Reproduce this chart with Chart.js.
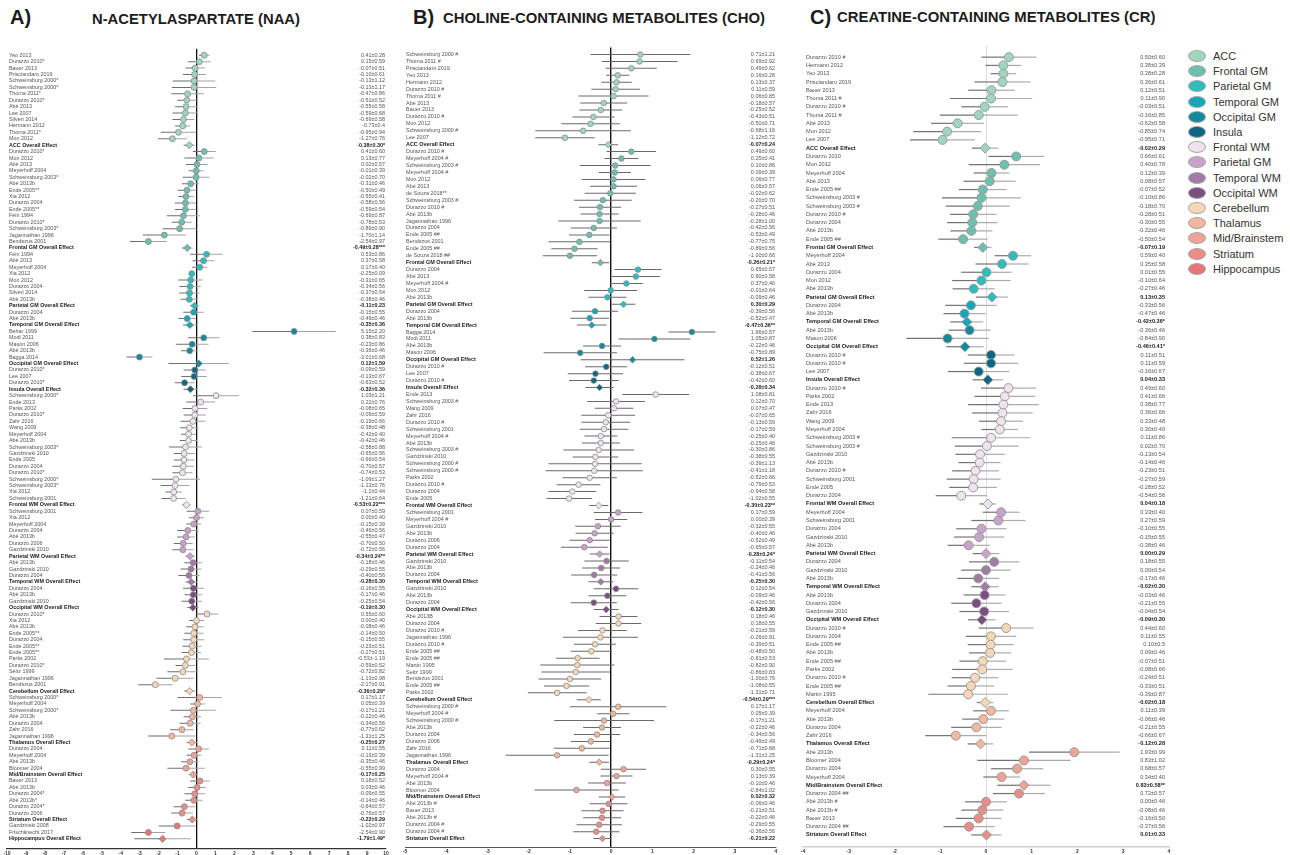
<!DOCTYPE html>
<html>
<head>
<meta charset="utf-8">
<script src="https://cdn.jsdelivr.net/npm/chart.js@4.4.1/dist/chart.umd.min.js"></script>
<style>
html,body{margin:0;padding:0;background:#fff;width:1290px;height:855px;overflow:hidden;font-family:"Liberation Sans",Arial,sans-serif;}
canvas{position:absolute;top:0;}
.tag{position:absolute;font-weight:bold;color:#1c1c1c;white-space:nowrap;line-height:1;}
.lrow{position:absolute;left:1188px;height:12px;display:flex;align-items:center;white-space:nowrap;}
.dot{display:inline-block;width:18px;height:12px;border-radius:50%;border:1px solid #a8a8a8;box-sizing:border-box;}
.ltxt{margin-left:7px;font-size:11px;color:#333;line-height:12px;}
</style>
</head>
<body>
<div class="tag" style="left:10px;top:7px;font-size:20px">A)</div>
<div class="tag" style="left:92px;top:12px;font-size:14.8px">N-ACETYLASPARTATE (NAA)</div>
<div class="tag" style="left:413px;top:7px;font-size:20px">B)</div>
<div class="tag" style="left:443px;top:11px;font-size:14.9px">CHOLINE-CONTAINING METABOLITES (CHO)</div>
<div class="tag" style="left:810px;top:7px;font-size:20px">C)</div>
<div class="tag" style="left:837px;top:10px;font-size:14.9px">CREATINE-CONTAINING METABOLITES (CR)</div>
<canvas id="cA" width="395" height="855" style="left:0px"></canvas>
<canvas id="cB" width="395" height="855" style="left:395px"></canvas>
<canvas id="cC" width="395" height="855" style="left:785px"></canvas>
<div id="legend"></div>
<script>
// ---------------- shared categories ----------------
const regionNames = ['ACC','Frontal GM','Parietal GM','Temporal GM','Occipital GM','Insula','Frontal WM','Parietal WM','Temporal WM','Occipital WM','Cerebellum','Thalamus','Mid/Brainstem','Striatum','Hippocampus'];
const legendLabels = ['ACC','Frontal GM','Parietal GM','Temporal GM','Occipital GM','Insula','Frontal WM','Parietal GM','Temporal WM','Occipital WM','Cerebellum','Thalamus','Mid/Brainstem','Striatum','Hippocampus'];
const regionColors = ['#9fd6c1','#6dc0af','#2ebdbf','#12a7ba','#138a9c','#0c6684','#efe3ee','#c8a2c8','#a27aa6','#7b4e80','#f6d8b7','#f2b79c','#eda395','#e88d87','#e57577'];

// ---------------- A) NAA ----------------
const naaGroups = [15,16,9,3,6,4,18,8,4,4,13,8,5,7,3];
const naaNames = [
 'Yeo 2013','Durazzo 2010*','Bauer 2013','Prisciandaro 2019','Schweinsburg 2000*','Schweinsburg 2000*','Thoma 2011*','Durazzo 2010*','Abé 2013','Lee 2007','Silveri 2014','Hermann 2012','Thoma 2011*','Mon 2012','ACC Overall Effect',
 'Durazzo 2010*','Mon 2012','Abé 2013','Meyerhoff 2004','Schweinsburg 2003*','Abé 2013b','Ende 2005**','Xia 2012','Durazzo 2004','Ende 2005**','Fein 1994','Durazzo 2010*','Schweinsburg 2003*','Jagannathan 1996','Bendszus 2001','Frontal GM Overall Effect',
 'Fein 1994','Abé 2013','Meyerhoff 2004','Xia 2012','Mon 2012','Durazzo 2004','Silveri 2014','Abé 2013b','Parietal GM Overall Effect',
 'Durazzo 2004','Abé 2013b','Temporal GM Overall Effect',
 'Behar 1999','Modi 2011','Mason 2006','Abé 2013b','Bagga 2014','Occipital GM Overall Effect',
 'Durazzo 2010*','Lee 2007','Durazzo 2010*','Insula Overall Effect',
 'Schweinsburg 2000*','Ende 2013','Parks 2002','Durazzo 2010*','Zahr 2016','Wang 2009','Meyerhoff 2004','Abé 2013b','Schweinsburg 2003*','Gazdzinski 2010','Ende 2005','Durazzo 2004','Durazzo 2010*','Schweinsburg 2000*','Schweinsburg 2003*','Xia 2012','Schweinsburg 2001','Frontal WM Overall Effect',
 'Schweinsburg 2001','Xia 2012','Meyerhoff 2004','Durazzo 2004','Abé 2013b','Durazzo 2006','Gazdzinski 2010','Parietal WM Overall Effect',
 'Abé 2013b','Gazdzinski 2010','Durazzo 2004','Temporal WM Overall Effect',
 'Durazzo 2004','Abé 2013b','Gazdzinski 2010','Occipital WM Overall Effect',
 'Durazzo 2010*','Xia 2012','Abé 2013b','Ende 2005**','Durazzo 2004','Ende 2005**','Ende 2005**','Parks 2002','Durazzo 2010*','Seitz 1999','Jagannathan 1996','Bendszus 2001','Cerebellum Overall Effect',
 'Schweinsburg 2000*','Meyerhoff 2004','Schweinsburg 2000*','Abé 2013b','Durazzo 2004','Zahr 2016','Jagannathan 1996','Thalamus Overall Effect',
 'Durazzo 2004','Meyerhoff 2004','Abé 2013b','Bloomer 2004','Mid/Brainstem Overall Effect',
 'Bauer 2013','Abé 2013b','Durazzo 2004*','Abé 2013b*','Durazzo 2004*','Durazzo 2006','Striatum Overall Effect',
 'Gazdzinski 2008','Frischknecht 2017','Hippocampus Overall Effect'
];
const naaEst = [
 0.41,0.15,-0.07,-0.10,-0.13,-0.13,-0.47,-0.51,-0.55,-0.59,-0.69,-0.73,-0.95,-1.27,-0.38,
 0.41,0.13,0.02,-0.01,-0.02,-0.31,-0.50,-0.55,-0.58,-0.59,-0.69,-0.78,-0.89,-1.70,-2.54,-0.49,
 0.53,0.37,0.17,-0.25,-0.31,-0.34,-0.37,-0.38,-0.11,
 -0.15,-0.49,-0.35,
 5.15,0.38,-0.23,-0.36,-3.01,0.12,
 -0.09,-0.13,-0.63,-0.32,
 1.03,0.22,-0.08,-0.09,-0.19,-0.38,-0.42,-0.42,-0.58,-0.65,-0.66,-0.70,-0.74,-1.09,-1.13,-1.20,-1.21,-0.53,
 0.07,0.00,-0.15,-0.46,-0.55,-0.70,-0.72,-0.34,
 -0.18,-0.29,-0.40,-0.28,
 -0.16,-0.17,-0.25,-0.19,
 0.55,0.00,-0.08,-0.14,-0.15,-0.23,-0.27,-0.53,-0.59,-0.72,-1.13,-2.17,-0.36,
 0.17,0.05,-0.17,-0.22,-0.34,-0.77,-1.31,-0.25,
 0.11,-0.13,-0.35,-0.55,-0.17,
 0.18,0.03,-0.09,-0.14,-0.64,-0.76,-0.22,
 -1.02,-2.54,-1.79
];
const naaErr = [
 0.28,0.59,0.51,0.61,1.12,1.17,0.86,0.52,0.58,0.68,0.58,0.40,0.94,0.76,0.30,
 0.60,0.77,0.57,0.39,0.70,0.46,0.49,0.41,0.56,0.54,0.87,0.53,0.90,1.14,0.97,0.28,
 0.86,0.58,0.40,0.09,0.65,0.56,0.54,0.46,0.23,
 0.55,0.46,0.36,
 2.20,0.83,0.86,0.46,0.68,1.59,
 0.59,0.67,0.52,0.36,
 1.21,0.76,0.65,0.59,0.66,0.48,0.40,0.46,0.88,0.56,0.54,0.57,0.53,1.27,0.76,0.44,0.64,0.22,
 0.59,0.40,0.39,0.56,0.47,0.50,0.56,0.24,
 0.46,0.55,0.56,0.30,
 0.55,0.46,0.54,0.30,
 0.60,0.40,0.46,0.50,0.55,0.51,0.51,1.19,0.52,0.82,0.98,0.91,0.29,
 1.17,0.39,1.21,0.46,0.56,0.62,1.25,0.27,
 0.55,0.39,0.46,0.99,0.25,
 0.52,0.46,0.55,0.46,0.57,0.57,0.29,
 0.97,0.90,1.49
];
const naaText = [
 '0.41±0.28','0.15±0.59','-0.07±0.51','-0.10±0.61','-0.13±1.12','-0.13±1.17','-0.47±0.86','-0.51±0.52','-0.55±0.58','-0.59±0.68','-0.69±0.58','-0.73±0.4','-0.95±0.94','-1.27±0.76','-0.38±0.30*',
 '0.41±0.60','0.13±0.77','0.02±0.57','-0.01±0.39','-0.02±0.70','-0.31±0.46','-0.50±0.49','-0.55±0.41','-0.58±0.56','-0.59±0.54','-0.69±0.87','-0.78±0.53','-0.89±0.90','-1.70±1.14','-2.54±0.97','-0.49±0.28***',
 '0.53±0.86','0.37±0.58','0.17±0.40','-0.25±0.09','-0.31±0.65','-0.34±0.56','-0.37±0.54','-0.38±0.46','-0.11±0.23',
 '-0.15±0.55','-0.49±0.46','-0.35±0.36',
 '5.15±2.20','0.38±0.83','-0.23±0.86','-0.36±0.46','-3.01±0.68','0.12±1.59',
 '-0.09±0.59','-0.13±0.67','-0.63±0.52','-0.32±0.36',
 '1.03±1.21','0.22±0.76','-0.08±0.65','-0.09±0.59','-0.19±0.66','-0.38±0.48','-0.42±0.40','-0.42±0.46','-0.58±0.88','-0.65±0.56','-0.66±0.54','-0.70±0.57','-0.74±0.53','-1.09±1.27','-1.13±0.76','-1.2±0.44','-1.21±0.64','-0.53±0.22***',
 '0.07±0.59','0.00±0.40','-0.15±0.39','-0.46±0.56','-0.55±0.47','-0.70±0.50','-0.72±0.56','-0.34±0.24**',
 '-0.18±0.46','-0.29±0.55','-0.40±0.56','-0.28±0.30',
 '-0.16±0.55','-0.17±0.46','-0.25±0.54','-0.19±0.30',
 '0.55±0.60','0.00±0.40','-0.08±0.46','-0.14±0.50','-0.15±0.55','-0.23±0.51','-0.27±0.51','-0.53±-1.19','-0.59±0.52','-0.72±0.82','-1.13±0.98','-2.17±0.91','-0.36±0.29*',
 '0.17±1.17','0.05±0.39','-0.17±1.21','-0.22±0.46','-0.34±0.56','-0.77±0.62','-1.31±1.25','-0.25±0.27',
 '0.11±0.55','-0.13±0.39','-0.35±0.46','-0.55±0.99','-0.17±0.25',
 '0.18±0.52','0.03±0.46','-0.09±0.55','-0.14±0.46','-0.64±0.57','-0.76±0.57','-0.22±0.29',
 '-1.02±0.97','-2.54±0.90','-1.79±1.49*'
];

// ---------------- B) CHO ----------------
const choGroups = [14,17,6,3,5,4,17,7,4,4,13,9,5,6];
const choNames = [
 'Schweinsburg 2000 #','Thoma 2011 #','Prisciandaro 2019','Yeo 2013','Hermann 2012','Durazzo 2010 #','Thoma 2011 #','Abé 2013','Bauer 2013','Durazzo 2010 #','Mon 2012','Schweinsburg 2000 #','Lee 2007','ACC Overall Effect',
 'Durazzo 2010 #','Meyerhoff 2004 #','Schweinsburg 2003 #','Meyerhoff 2004 #','Mon 2012','Abé 2013','de Souza 2018**','Schweinsburg 2003 #','Durazzo 2010 #','Abé 2013b','Jagannathan 1996','Durazzo 2004','Ende 2005 ##','Bendszus 2001','Ende 2005 ##','de Souza 2018 ##','Frontal GM Overall Effect',
 'Durazzo 2004','Abé 2013','Meyerhoff 2004 #','Mon 2012','Abé 2013b','Parietal GM Overall Effect',
 'Durazzo 2004','Abé 2013b','Temporal GM Overall Effect',
 'Bagga 2014','Modi 2011','Abé 2013b','Mason 2006','Occipital GM Overall Effect',
 'Durazzo 2010 #','Lee 2007','Durazzo 2010 #','Insula Overall Effect',
 'Ende 2013','Schweinsburg 2003 #','Wang 2009','Zahr 2016','Durazzo 2010 #','Schweinsburg 2001','Meyerhoff 2004 #','Abé 2013b','Schweinsburg 2003 #','Gazdzinski 2010','Schweinsburg 2000 #','Schweinsburg 2000 #','Parks 2002','Durazzo 2010 #','Durazzo 2004','Ende 2005','Frontal WM Overall Effect',
 'Schweinsburg 2001','Meyerhoff 2004 #','Gazdzinski 2010','Abé 2013b','Durazzo 2006','Durazzo 2004','Parietal WM Overall Effect',
 'Gazdzinski 2010','Abé 2013b','Durazzo 2004','Temporal WM Overall Effect',
 'Gazdzinski 2010','Abé 2013b','Durazzo 2004','Occipital WM Overall Effect',
 'Abé 2013B','Durazzo 2004','Durazzo 2010 #','Jagannathan 1996','Durazzo 2010 #','Ende 2005 ##','Ende 2005 ##','Martin 1995','Seitz 1999','Bendszus 2001','Ende 2005 ##','Parks 2002','Cerebellum Overall Effect',
 'Schweinsburg 2000 #','Meyerhoff 2004 #','Schweinsburg 2000 #','Abé 2013b','Durazzo 2004','Durazzo 2006','Zahr 2016','Jagannathan 1996','Thalamus Overall Effect',
 'Durazzo 2004','Meyerhoff 2004 #','Abé 2013b','Bloomer 2004','Mid/Brainstem Overall Effect',
 'Abé 2013b #','Bauer 2013','Abé 2013b #','Durazzo 2004 #','Durazzo 2004 #','Striatum Overall Effect'
];
const choEst = [
 0.71,0.69,0.49,0.16,0.13,0.11,0.06,-0.18,-0.25,-0.43,-0.50,-0.68,-1.12,-0.07,
 0.49,0.25,0.10,0.09,0.06,0.06,-0.02,-0.20,-0.27,-0.28,-0.28,-0.42,-0.53,-0.77,-0.89,-1.00,-0.26,
 0.65,0.60,0.37,-0.01,-0.09,0.30,
 -0.39,-0.52,-0.47,
 1.96,1.05,-0.22,-0.75,0.52,
 -0.12,-0.38,-0.42,-0.28,
 1.08,0.12,0.07,-0.07,-0.13,-0.17,-0.25,-0.25,-0.30,-0.38,-0.39,-0.41,-0.52,-0.79,-0.94,-1.02,-0.30,
 0.17,0.00,-0.32,-0.40,-0.52,-0.65,-0.28,
 -0.11,-0.24,-0.41,-0.25,
 0.12,-0.09,-0.42,-0.12,
 0.18,0.18,-0.21,-0.26,-0.39,-0.48,-0.81,-0.82,-0.86,-1.00,-1.08,-1.31,-0.54,
 0.17,0.05,-0.17,-0.22,-0.34,-0.49,-0.71,-1.31,-0.29,
 0.30,0.13,-0.10,-0.84,0.02,
 -0.06,-0.21,-0.22,-0.29,-0.36,-0.21
];
const choErr = [
 1.21,0.92,0.62,0.28,0.37,0.59,0.85,0.57,0.52,0.51,0.71,1.16,0.72,0.24,
 0.60,0.41,0.86,0.39,0.77,0.57,0.62,0.70,0.51,0.46,1.00,0.56,0.49,0.75,0.56,0.66,0.21,
 0.57,0.58,0.40,0.64,0.46,0.29,
 0.56,0.47,0.36,
 0.57,0.87,0.46,0.89,1.26,
 0.51,0.67,0.60,0.34,
 0.81,0.70,0.47,0.65,0.59,0.59,0.40,0.46,0.86,0.55,1.13,1.18,0.66,0.53,0.58,0.55,0.23,
 0.59,0.39,0.55,0.46,0.49,0.57,0.24,
 0.54,0.46,0.56,0.30,
 0.54,0.46,0.56,0.30,
 0.46,0.55,0.59,0.91,0.51,0.50,0.53,0.90,0.83,0.76,0.55,0.71,0.29,
 1.17,0.39,1.21,0.46,0.56,0.49,0.68,1.25,0.24,
 0.55,0.39,0.46,1.02,0.32,
 0.46,0.51,0.46,0.55,0.56,0.22
];
const choText = [
 '0.71±1.21','0.69±0.92','0.49±0.62','0.16±0.28','0.13±0.37','0.11±0.59','0.06±0.85','-0.18±0.57','-0.25±0.52','-0.43±0.51','-0.50±0.71','-0.68±1.16','-1.12±0.72','-0.07±0.24',
 '0.49±0.60','0.25±0.41','0.10±0.86','0.09±0.39','0.06±0.77','0.06±0.57','-0.02±0.62','-0.20±0.70','-0.27±0.51','-0.28±0.46','-0.28±1.00','-0.42±0.56','-0.53±0.49','-0.77±0.75','-0.89±0.56','-1.00±0.66','-0.26±0.21*',
 '0.65±0.57','0.60±0.58','0.37±0.40','-0.01±0.64','-0.09±0.46','0.30±0.29',
 '-0.39±0.56','-0.52±0.47','-0.47±0.36**',
 '1.96±0.57','1.05±0.87','-0.22±0.46','-0.75±0.89','0.52±1.26',
 '-0.12±0.51','-0.38±0.67','-0.42±0.60','-0.28±0.34',
 '1.08±0.81','0.12±0.70','0.07±0.47','-0.07±0.65','-0.13±0.59','-0.17±0.59','-0.25±0.40','-0.25±0.46','-0.30±0.86','-0.38±0.55','-0.39±1.13','-0.41±1.18','-0.52±0.66','-0.79±0.53','-0.94±0.58','-1.02±0.55','-0.30±0.23**',
 '0.17±0.59','0.00±0.39','-0.32±0.55','-0.40±0.46','-0.52±0.49','-0.65±0.57','-0.28±0.24*',
 '-0.11±0.54','-0.24±0.46','-0.41±0.56','-0.25±0.30',
 '0.12±0.54','-0.09±0.46','-0.42±0.56','-0.12±0.30',
 '0.18±0.46','0.18±0.55','-0.21±0.59','-0.26±0.91','-0.39±0.51','-0.48±0.50','-0.81±0.53','-0.82±0.90','-0.86±0.83','-1.00±0.76','-1.08±0.55','-1.31±0.71','-0.54±0.29***',
 '0.17±1.17','0.05±0.39','-0.17±1.21','-0.22±0.46','-0.34±0.56','-0.49±0.49','-0.71±0.68','-1.31±1.25','-0.29±0.24*',
 '0.30±0.55','0.13±0.39','-0.10±0.46','-0.84±1.02','0.02±0.32',
 '-0.06±0.46','-0.21±0.51','-0.22±0.46','-0.29±0.55','-0.36±0.56','-0.21±0.22'
];

// ---------------- C) CR ----------------
const crGroups = [12,12,6,3,3,4,15,6,4,4,10,5,5,6];
const crNames = [
 'Durazzo 2010 #','Hermann 2012','Yeo 2013','Prisciandaro 2019','Bauer 2013','Thoma 2011 #','Durazzo 2010 #','Thoma 2011 #','Abé 2013','Mon 2012','Lee 2007','ACC Overall Effect',
 'Durazzo 2010','Mon 2012','Meyerhoff 2004','Abé 2013','Ende 2005 ##','Schweinsburg 2003 #','Schweinsburg 2003 #','Durazzo 2010 #','Durazzo 2004','Abé 2013b','Ende 2005 ##','Frontal GM Overall Effect',
 'Meyerhoff 2004','Abé 2013','Durazzo 2004','Mon 2012','Abé 2013b','Parietal GM Overall Effect',
 'Durazzo 2004','Abé 2013b','Temporal GM Overall Effect',
 'Abé 2013b','Mason 2006','Occipital GM Overall Effect',
 'Durazzo 2010 #','Durazzo 2010 #','Lee 2007','Insula Overall Effect',
 'Durazzo 2010 #','Parks 2002','Ende 2013','Zahr 2016','Wang 2009','Meyerhoff 2004','Schweinsburg 2003 #','Schweinsburg 2003 #','Gazdzinski 2010','Abé 2013b','Durazzo 2010 #','Schweinsburg 2001','Ende 2005','Durazzo 2004','Frontal WM Overall Effect',
 'Meyerhoff 2004','Schweinsburg 2001','Durazzo 2004','Gazdzinski 2010','Abé 2013b','Parietal WM Overall Effect',
 'Durazzo 2004','Gazdzinski 2010','Abé 2013b','Temporal WM Overall Effect',
 'Abé 2013b','Durazzo 2004','Gazdzinski 2010','Occipital WM Overall Effect',
 'Durazzo 2010 #','Durazzo 2004','Ende 2005 ##','Abé 2013b','Ende 2005 ##','Parks 2002','Durazzo 2010 #','Ende 2005 ##','Martin 1995','Cerebellum Overall Effect',
 'Meyerhoff 2004','Abé 2013b','Durazzo 2004','Zahr 2016','Thalamus Overall Effect',
 'Abé 2013b','Bloomer 2004','Durazzo 2004','Meyerhoff 2004','Mid/Brainstem Overall Effect',
 'Durazzo 2004 ##','Abé 2013b #','Abé 2013b #','Bauer 2013','Durazzo 2004 ##','Striatum Overall Effect'
];
const crEst = [
 0.50,0.38,0.38,0.36,0.12,0.11,-0.03,-0.16,-0.62,-0.85,-0.95,-0.02,
 0.66,0.40,0.12,0.08,-0.07,-0.10,-0.18,-0.28,-0.30,-0.32,-0.50,-0.07,
 0.59,0.35,0.01,-0.10,-0.27,0.13,
 -0.33,-0.47,-0.42,
 -0.36,-0.84,-0.46,
 0.11,0.11,-0.16,0.04,
 0.49,0.41,0.38,0.36,0.33,0.30,0.11,0.02,-0.13,-0.14,-0.23,-0.27,-0.28,-0.54,0.04,
 0.33,0.27,-0.10,-0.15,-0.38,0.00,
 0.18,0.00,-0.17,-0.02,
 -0.03,-0.21,-0.04,-0.09,
 0.44,0.11,0.10,0.09,-0.07,-0.08,-0.24,-0.33,-0.39,-0.02,
 0.11,-0.06,-0.21,-0.66,-0.12,
 1.93,0.83,0.68,0.34,0.83,
 0.72,0.00,-0.08,-0.16,-0.37,0.01
];
const crErr = [
 0.60,0.39,0.28,0.61,0.51,0.90,0.51,0.85,0.58,0.74,0.71,0.29,
 0.61,0.78,0.39,0.57,0.52,0.86,0.70,0.51,0.55,0.46,0.54,0.19,
 0.40,0.58,0.55,0.64,0.46,0.35,
 0.56,0.46,0.36,
 0.46,0.90,0.41,
 0.51,0.59,0.67,0.33,
 0.60,0.66,0.77,0.66,0.48,0.40,0.86,0.70,0.54,0.46,0.51,0.59,0.52,0.56,0.18,
 0.40,0.59,0.55,0.55,0.46,0.29,
 0.55,0.54,0.46,0.30,
 0.46,0.55,0.54,0.30,
 0.60,0.55,0.50,0.46,0.51,0.66,0.51,0.51,0.87,0.18,
 0.39,0.46,0.55,0.67,0.28,
 0.99,1.02,0.57,0.40,0.58,
 0.57,0.46,0.46,0.50,0.56,0.33
];
const crText = [
 '0.50±0.60','0.38±0.39','0.38±0.28','0.36±0.61','0.12±0.51','0.11±0.90','-0.03±0.51','-0.16±0.85','-0.62±0.58','-0.85±0.74','-0.95±0.71','-0.02±0.29',
 '0.66±0.61','0.40±0.78','0.12±0.39','0.08±0.57','-0.07±0.52','-0.10±0.86','-0.18±0.70','-0.28±0.51','-0.30±0.55','-0.32±0.46','-0.50±0.54','-0.07±0.19',
 '0.59±0.40','0.35±0.58','0.01±0.55','-0.10±0.64','-0.27±0.46','0.13±0.35',
 '-0.33±0.56','-0.47±0.46','-0.42±0.36*',
 '-0.36±0.46','-0.84±0.90','-0.46±0.41*',
 '0.11±0.51','0.11±0.59','-0.16±0.67','0.04±0.33',
 '0.49±0.60','0.41±0.66','0.38±0.77','0.36±0.66','0.33±0.48','0.30±0.40','0.11±0.86','0.02±0.70','-0.13±0.54','-0.14±0.46','-0.23±0.51','-0.27±0.59','-0.28±0.52','-0.54±0.56','0.04±0.18',
 '0.33±0.40','0.27±0.59','-0.10±0.55','-0.15±0.55','-0.38±0.46','0.00±0.29',
 '0.18±0.55','0.00±0.54','-0.17±0.46','-0.02±0.30',
 '-0.03±0.46','-0.21±0.55','-0.04±0.54','-0.09±0.30',
 '0.44±0.60','0.11±0.55','0.10±0.5','0.09±0.46','-0.07±0.51','-0.08±0.66','-0.24±0.51','-0.33±0.51','-0.39±0.87','-0.02±0.18',
 '0.11±0.39','-0.06±0.46','-0.21±0.55','-0.66±0.67','-0.12±0.28',
 '1.93±0.99','0.83±1.02','0.68±0.57','0.34±0.40','0.83±0.58**',
 '0.72±0.57','0.00±0.46','-0.08±0.46','-0.16±0.50','-0.37±0.56','0.01±0.33'
];

// ---------------- drawing ----------------
const FAM = "'Liberation Sans', Arial, sans-serif";
Chart.defaults.font.family = FAM;

function rowInfo(groups) {
  const region = [], isOverall = [];
  groups.forEach((n, r) => { for (let k = 0; k < n; k++) { region.push(r); isOverall.push(k === n - 1); } });
  return {region, isOverall};
}

function drawPanel(names, est, err, text, groups, st) {
  const {region, isOverall} = rowInfo(groups);
  const setRowTicks = (scale) => { scale.ticks = names.map((_, i) => ({value: i})); };
  const ov = (ctx) => ctx.tick && isOverall[ctx.tick.value];
  const tickFont = (ctx) => ({family: FAM, size: st.labelSize, weight: ov(ctx) ? 'bold' : 'normal'});
  const tickColor = (ctx) => ov(ctx) ? '#1b1b1b' : '#555';
  const barBase = {type: 'bar', xAxisID: 'x', yAxisID: 'y', barThickness: st.barWidth, grouped: false,
                   borderWidth: 0, inflateAmount: 0, order: 2};
  const datasets = [
    Object.assign({}, barBase, {data: est.map((e, i) => ({x: [e - err[i], e], y: i})), backgroundColor: st.barLeft}),
    Object.assign({}, barBase, {data: est.map((e, i) => ({x: [e, e + err[i]], y: i})), backgroundColor: st.barRight}),
    {
      type: 'scatter', xAxisID: 'x', yAxisID: 'y', order: 0,
      data: est.map((e, i) => ({x: e, y: i})),
      pointStyle: isOverall.map(o => o ? 'rectRot' : 'circle'),
      pointRadius: isOverall.map(o => o ? st.diamondR : st.circleR),
      pointBackgroundColor: region.map(r => regionColors[r]),
      pointBorderColor: st.markerBorder,
      pointBorderWidth: st.markerBorderWidth
    }
  ];
  const rowAxis = (pos, labels, pad) => ({
    type: 'linear', axis: 'y', position: pos, reverse: true,
    min: st.rowMin, max: st.rowMax,
    afterBuildTicks: setRowTicks,
    afterFit: (s) => { s.width = 0; s.paddingTop = 0; s.paddingBottom = 0; },
    grid: {display: false}, border: {display: false},
    ticks: {mirror: true, padding: pad, autoSkip: false, font: tickFont, color: tickColor,
            callback: (v) => labels[v]}
  });
  new Chart(document.getElementById(st.canvas), {
    type: 'bar',
    data: {datasets},
    options: {
      indexAxis: 'y', responsive: false, animation: false, events: [], devicePixelRatio: 1,
      layout: {padding: st.padding},
      plugins: {legend: {display: false}, tooltip: {enabled: false}},
      scales: {
        x: {
          type: 'linear', position: 'bottom', min: st.xMin, max: st.xMax,
          afterFit: (s) => { s.height = 6; },
          ticks: {stepSize: 1, maxTicksLimit: 60, autoSkip: false, padding: 2, color: '#333',
                  font: {family: FAM, size: 5, weight: 'bold'}},
          grid: {drawTicks: false,
                 color: (c) => (c.tick && c.tick.value === 0) ? st.zeroColor : 'rgba(0,0,0,0)',
                 lineWidth: st.zeroWidth},
          border: {display: true, color: st.axisColor, width: st.axisWidth}
        },
        y: rowAxis('left', names, st.leftPad),
        y2: rowAxis('right', text, st.rightPad)
      }
    }
  });
}

drawPanel(naaNames, naaEst, naaErr, naaText, naaGroups, {
  canvas: 'cA', xMin: -10, xMax: 10, rowMin: -0.5, rowMax: 123.08,
  padding: {left: 7, right: 9, top: 48.8, bottom: 0},
  labelSize: 5.4, leftPad: 2, rightPad: -1,
  barWidth: 1, barLeft: '#6f6f6f', barRight: '#a4a4a4',
  circleR: 3, diamondR: 3.6, markerBorder: '#8c8c8c', markerBorderWidth: 0.8,
  zeroColor: '#111', zeroWidth: 1.3, axisColor: '#333', axisWidth: 1.2
});
drawPanel(choNames, choEst, choErr, choText, choGroups, {
  canvas: 'cB', xMin: -5, xMax: 4, rowMin: -0.5, rowMax: 113.71,
  padding: {left: 10, right: 14, top: 47.5, bottom: 2},
  labelSize: 5.45, leftPad: 1, rightPad: -1,
  barWidth: 1, barLeft: '#6a6a6a', barRight: '#6a6a6a',
  circleR: 2.8, diamondR: 3.3, markerBorder: '#8c8c8c', markerBorderWidth: 0.8,
  zeroColor: '#111', zeroWidth: 1.4, axisColor: '#555', axisWidth: 1
});
drawPanel(crNames, crEst, crErr, crText, crGroups, {
  canvas: 'cC', xMin: -4, xMax: 4, rowMin: -0.837, rowMax: 94.95,
  padding: {left: 18, right: 11, top: 46, bottom: 2},
  labelSize: 5.6, leftPad: 3, rightPad: -4,
  barWidth: 1.2, barLeft: '#737373', barRight: '#ababab',
  circleR: 4.5, diamondR: 5, markerBorder: '#9a9a9a', markerBorderWidth: 1,
  zeroColor: '#dcdcdc', zeroWidth: 1, axisColor: '#cfcfcf', axisWidth: 1.5
});

// ---------------- legend ----------------
const legendBox = document.getElementById('legend');
legendLabels.forEach((lab, i) => {
  const row = document.createElement('div');
  row.className = 'lrow';
  row.style.top = (50 + i * 15.2) + 'px';
  const dot = document.createElement('span');
  dot.className = 'dot';
  dot.style.background = regionColors[i];
  const txt = document.createElement('span');
  txt.className = 'ltxt';
  txt.textContent = lab;
  row.appendChild(dot);
  row.appendChild(txt);
  legendBox.appendChild(row);
});
</script>
</body>
</html>
